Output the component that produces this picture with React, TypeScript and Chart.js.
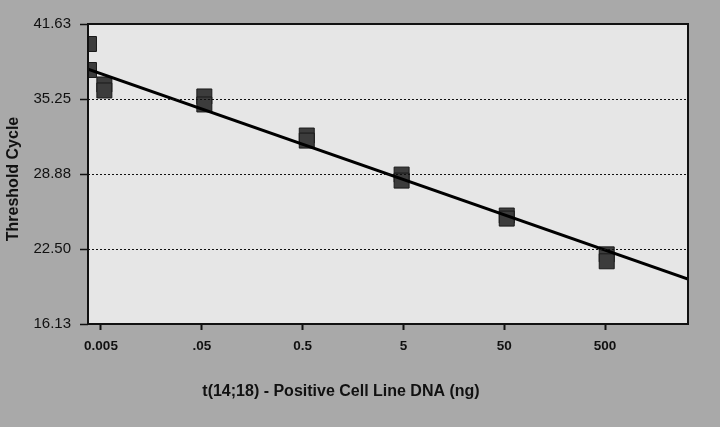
import { useEffect, useRef } from "react";
import { Chart, registerables } from "chart.js";

Chart.register(...registerables);

// DNA amount (ng) of each measured replicate, and its threshold cycle
const concentrations = [0.0038, 0.0038, 0.0054, 0.0054, 0.053, 0.053, 0.55, 0.55, 4.8, 4.8, 53, 53, 520, 520];
const thresholdCycles = [39.93, 37.72, 36.49, 35.98, 35.47, 34.79, 32.15, 31.72, 28.83, 28.32, 25.35, 25.09, 22.05, 21.46];

// regression line end points
const fitX = [0.003716, 3329];
const fitY = [37.8, 19.95];

const xTickValues = [0.005, 0.05, 0.5, 5, 50, 500];
const xTickLabels = ["0.005", ".05", "0.5", "5", "50", "500"];
const yTickValues = [16.13, 22.5, 28.88, 35.25, 41.63];

const xAxisTitle = "t(14;18) - Positive Cell Line DNA (ng)";
const yAxisTitle = "Threshold Cycle";

const FONT = 'Arial, "Liberation Sans", Helvetica, sans-serif';

const backgroundPlugin = {
  id: "bgPlugin",
  beforeDraw(chart: any) {
    const { ctx, chartArea: a, width, height } = chart;
    ctx.save();
    ctx.fillStyle = "#a9a9a9";
    ctx.fillRect(0, 0, width, height);
    ctx.fillStyle = "#e6e6e6";
    ctx.fillRect(a.left, a.top, a.right - a.left, a.bottom - a.top);
    ctx.restore();
  },
  afterDraw(chart: any) {
    const { ctx, chartArea: a } = chart;
    ctx.save();
    ctx.strokeStyle = "#111";
    ctx.lineWidth = 2;
    ctx.strokeRect(a.left, a.top, a.right - a.left, a.bottom - a.top);
    ctx.fillStyle = "#111";
    ctx.font = `bold 16px ${FONT}`;
    ctx.textAlign = "center";
    ctx.textBaseline = "middle";
    ctx.fillText(xAxisTitle, 341, 392);
    ctx.translate(14, 179);
    ctx.rotate(-Math.PI / 2);
    ctx.fillText(yAxisTitle, 0, 0);
    ctx.restore();
  },
};

export default function App() {
  const ref = useRef<HTMLCanvasElement | null>(null);

  useEffect(() => {
    if (!ref.current) return;
    const chart = new Chart(ref.current, {
      type: "scatter",
      data: {
        datasets: [
          {
            type: "line",
            data: fitX.map((x, i) => ({ x, y: fitY[i] })),
            borderColor: "#000",
            borderWidth: 3,
            pointRadius: 0,
            clip: 0,
            order: 0,
          } as any,
          {
            type: "scatter",
            data: concentrations.map((x, i) => ({ x, y: thresholdCycles[i] })),
            pointStyle: "rect",
            pointRadius: 10.6,
            backgroundColor: "#3c3c3c",
            borderColor: "#1a1a1a",
            borderWidth: 1,
            clip: 0,
            order: 1,
          } as any,
        ],
      },
      options: {
        animation: false,
        responsive: false,
        devicePixelRatio: 1,
        layout: { padding: { left: 0, top: 24, right: 32, bottom: 0 } },
        plugins: { legend: { display: false }, tooltip: { enabled: false } },
        scales: {
          x: {
            type: "logarithmic",
            min: fitX[0],
            max: fitX[1],
            afterBuildTicks: (s: any) => {
              s.ticks = xTickValues.map((v) => ({ value: v }));
            },
            afterFit: (s: any) => {
              s.height = 103;
            },
            ticks: {
              callback: (_v: any, i: number) => xTickLabels[i],
              font: { family: FONT, size: 13.5, weight: "bold" },
              color: "#111",
              padding: 8,
              maxRotation: 0,
              autoSkip: false,
            },
            grid: { drawOnChartArea: false, tickLength: 6, tickColor: "#111", tickWidth: 2 },
            border: { display: false },
          },
          y: {
            min: yTickValues[0],
            max: yTickValues[yTickValues.length - 1],
            afterBuildTicks: (s: any) => {
              s.ticks = yTickValues.map((v) => ({ value: v }));
            },
            afterFit: (s: any) => {
              s.width = 88;
            },
            ticks: {
              callback: (v: any) => Number(v).toFixed(2),
              font: { family: FONT, size: 15 },
              color: "#111",
              padding: 9,
            },
            grid: {
              color: (c: any) =>
                c.index === 0 || c.index === yTickValues.length - 1 ? "rgba(0,0,0,0)" : "#111",
              lineWidth: 1,
              tickLength: 8,
              tickColor: "#111",
              tickWidth: 1.5,
              tickBorderDash: [],
              z: 1,
            },
            border: { display: false, dash: [2, 2] },
          },
        },
      } as any,
      plugins: [backgroundPlugin],
    });
    return () => chart.destroy();
  }, []);

  return (
    <div style={{ position: "absolute", left: 0, top: 0, width: 720, height: 427 }}>
      <canvas ref={ref} width={720} height={427} />
    </div>
  );
}
